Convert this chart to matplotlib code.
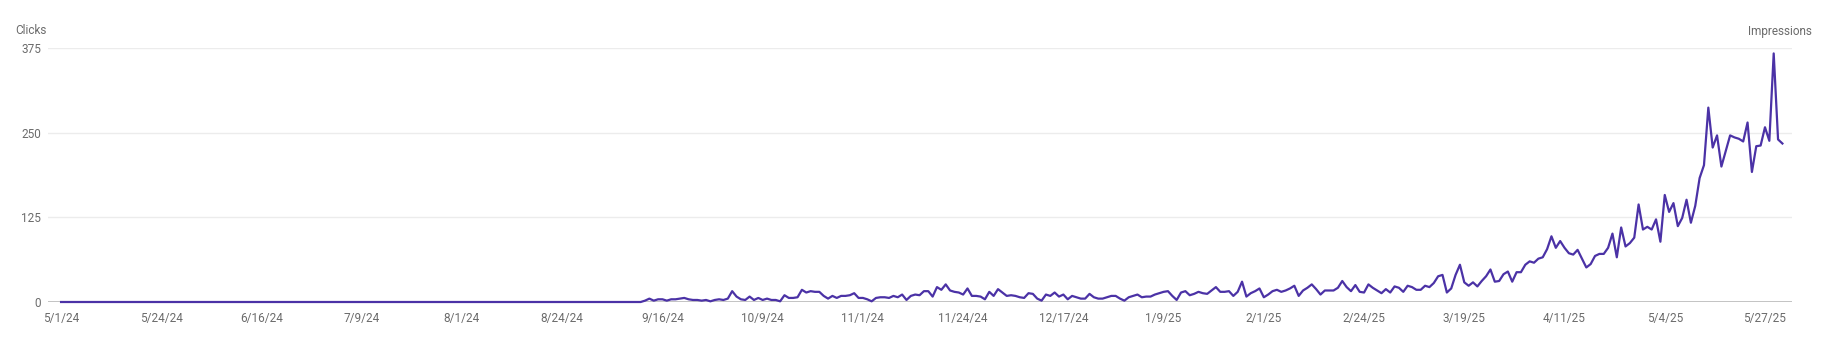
import matplotlib
matplotlib.use("Agg")
import matplotlib.pyplot as plt
import matplotlib.dates as mdates
import pandas as pd

# daily clicks, one list per month
may_2024 = [0, 0, 0, 0, 0, 0, 0, 0, 0, 0, 0, 0, 0, 0, 0, 0, 0, 0, 0, 0, 0, 0, 0, 0, 0, 0, 0, 0, 0, 0, 0]
jun_2024 = [0, 0, 0, 0, 0, 0, 0, 0, 0, 0, 0, 0, 0, 0, 0, 0, 0, 0, 0, 0, 0, 0, 0, 0, 0, 0, 0, 0, 0, 0]
jul_2024 = [0, 0, 0, 0, 0, 0, 0, 0, 0, 0, 0, 0, 0, 0, 0, 0, 0, 0, 0, 0, 0, 0, 0, 0, 0, 0, 0, 0, 0, 0, 0]
aug_2024 = [0, 0, 0, 0, 0, 0, 0, 0, 0, 0, 0, 0, 0, 0, 0, 0, 0, 0, 0, 0, 0, 0, 0, 0, 0, 0, 0, 0, 0, 0, 0]
sep_2024 = [0, 0, 0, 0, 0, 0, 0, 0, 0, 0, 0, 2, 5, 2, 4, 4, 2, 4, 4, 5,
            6, 4, 3, 3, 2, 3, 1, 3, 4, 3]
oct_2024 = [5, 16, 8, 4, 3, 8, 3, 6, 3, 5, 3, 3, 1, 10, 6, 6, 7, 18, 14, 16,
            15, 15, 9, 5, 9, 6, 9, 9, 10, 13, 6]
nov_2024 = [6, 4, 1, 6, 7, 7, 6, 9, 7, 11, 3, 9, 11, 10, 16, 16, 8, 22, 18, 26,
            17, 15, 14, 11, 20, 9, 9, 8, 4, 15]
dec_2024 = [9, 19, 14, 9, 10, 9, 7, 6, 13, 12, 5, 2, 11, 9, 14, 8, 11, 4, 9, 7,
            5, 5, 12, 7, 5, 5, 7, 9, 9, 5, 2]
jan_2025 = [7, 9, 11, 7, 8, 8, 11, 13, 15, 16, 9, 3, 14, 16, 10, 12, 15, 13, 12, 17,
            22, 15, 15, 16, 9, 15, 30, 8, 13, 16, 20]
feb_2025 = [7, 11, 16, 18, 15, 17, 20, 24, 9, 17, 21, 26, 19, 11, 17, 17, 17, 21, 31, 22,
            16, 25, 15, 14, 26, 21, 17, 13]
mar_2025 = [19, 14, 23, 21, 15, 24, 22, 18, 18, 24, 22, 28, 38, 40, 14, 20, 40, 55, 29, 24,
            29, 23, 31, 38, 48, 30, 31, 41, 45, 30, 44]
apr_2025 = [44, 55, 60, 58, 64, 66, 78, 97, 80, 90, 80, 72, 70, 77, 64, 51, 56, 68, 71, 71,
            80, 101, 66, 110, 82, 87, 95, 144, 107, 111]
may_2025 = [107, 122, 89, 158, 133, 146, 112, 124, 151, 117, 142, 183, 202, 287, 228, 246, 200, 223, 246, 243,
            241, 237, 265, 192, 230, 231, 258, 238, 367, 240, 234]

clicks = (may_2024 + jun_2024 + jul_2024 + aug_2024 + sep_2024 + oct_2024 + nov_2024
          + dec_2024 + jan_2025 + feb_2025 + mar_2025 + apr_2025 + may_2025)
dates = pd.date_range("2024-05-01", periods=len(clicks), freq="D")

tick_dates = ["2024-05-01", "2024-05-24", "2024-06-16", "2024-07-09", "2024-08-01", "2024-08-24",
              "2024-09-16", "2024-10-09", "2024-11-01", "2024-11-24", "2024-12-17", "2025-01-09",
              "2025-02-01", "2025-02-24", "2025-03-19", "2025-04-11", "2025-05-04", "2025-05-27"]
tick_labels = ["5/1/24", "5/24/24", "6/16/24", "7/9/24", "8/1/24", "8/24/24", "9/16/24", "10/9/24",
               "11/1/24", "11/24/24", "12/17/24", "1/9/25", "2/1/25", "2/24/25", "3/19/25",
               "4/11/25", "5/4/25", "5/27/25"]
y_ticks = [0, 125, 250, 375]

plt.rcParams['font.family'] = ['Roboto', 'DejaVu Sans']
text_grey = "#6b6b6b"

fig = plt.figure(figsize=(18.29, 3.55), dpi=100)
ax = fig.add_axes([48 / 1829, 53 / 355, 1744 / 1829, 254 / 355])

# grid and baseline
for y in y_ticks[1:]:
    ax.axhline(y, color="#ececec", lw=1, zorder=1)
ax.axhline(0, color="#bdbdbd", lw=2, zorder=1)

ax.plot(dates, clicks, color="#4b32a6", lw=1.6, zorder=3, clip_on=False)

start = pd.Timestamp("2024-05-01")
ax.set_xlim(mdates.date2num(start - pd.Timedelta(days=3)),
            mdates.date2num(start + pd.Timedelta(days=397.2)))
ax.set_ylim(0, 375)

ax.set_xticks(mdates.date2num(pd.to_datetime(tick_dates)))
ax.set_xticklabels(tick_labels)
ax.set_yticks(y_ticks)
ax.tick_params(axis="x", length=0, pad=7, labelsize=8.5, colors=text_grey)
ax.tick_params(axis="y", length=0, pad=5, labelsize=8.5, colors=text_grey)

for s in ax.spines.values():
    s.set_visible(False)

fig.text(15 / 1829, 1 - 31 / 355, "Clicks", fontsize=8.5, color=text_grey, va="center", ha="left")
fig.text(1812 / 1829, 1 - 31 / 355, "Impressions", fontsize=8.5, color=text_grey, va="center", ha="right")

fig.savefig("out.png", dpi=100)
